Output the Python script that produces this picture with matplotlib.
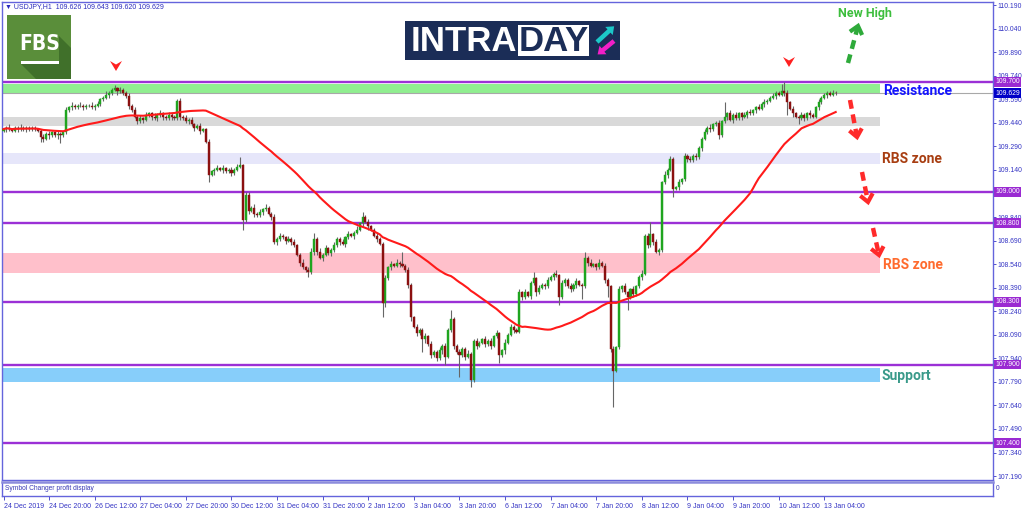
import numpy as np
import pandas as pd
import matplotlib
matplotlib.use("Agg")
import matplotlib.pyplot as plt
from matplotlib.patches import Rectangle, Polygon

plt.rcParams["font.family"] = ["Liberation Sans", "DejaVu Sans"]

# ---------------- data (USDJPY H1) ----------------
symbol_header = "\u25bc USDJPY,H1  109.626 109.643 109.620 109.629"
first_open = 109.39
closes = [
    109.40, 109.41, 109.40, 109.39, 109.41, 109.40, 109.41, 109.40, 109.41, 109.40,
    109.41, 109.40, 109.39, 109.35, 109.34, 109.37, 109.36, 109.38, 109.36, 109.37,
    109.36, 109.38, 109.52, 109.54, 109.55, 109.54, 109.55, 109.55, 109.54, 109.55,
    109.55, 109.54, 109.55, 109.56, 109.59, 109.60, 109.62, 109.63, 109.65, 109.66,
    109.64, 109.65, 109.63, 109.61, 109.55, 109.52, 109.48, 109.45, 109.47, 109.46,
    109.49, 109.50, 109.48, 109.47, 109.49, 109.50, 109.48, 109.47, 109.49, 109.48,
    109.47, 109.58, 109.48, 109.47, 109.45, 109.46, 109.43, 109.41, 109.42, 109.39,
    109.40, 109.32, 109.11, 109.13, 109.14, 109.15, 109.14, 109.15, 109.13, 109.14,
    109.12, 109.14, 109.16, 109.17, 108.82, 108.98, 108.88, 108.90, 108.86, 108.85,
    108.87, 108.89, 108.90, 108.86, 108.84, 108.68, 108.70, 108.72, 108.71, 108.69,
    108.70, 108.68, 108.66, 108.60, 108.55, 108.52, 108.50, 108.49, 108.62, 108.70,
    108.62, 108.58, 108.60, 108.64, 108.61, 108.63, 108.66, 108.70, 108.68, 108.67,
    108.71, 108.73, 108.72, 108.74, 108.76, 108.80, 108.84, 108.81, 108.78, 108.76,
    108.72, 108.70, 108.67, 108.29, 108.45, 108.52, 108.54, 108.53, 108.55, 108.54,
    108.53, 108.50, 108.41, 108.20, 108.14, 108.10, 108.12, 108.06, 108.08, 108.03,
    107.96, 107.98, 107.94, 107.99, 108.02, 107.95, 108.12, 108.19, 108.02, 107.98,
    107.96, 108.00, 107.95, 107.97, 107.80, 108.05, 108.02, 108.04, 108.06, 108.03,
    108.05, 108.02, 108.08, 108.10, 107.96, 107.99, 108.04, 108.09, 108.14, 108.12,
    108.11, 108.36, 108.33, 108.36, 108.34, 108.42, 108.45, 108.36, 108.39, 108.41,
    108.40, 108.44, 108.46, 108.48, 108.47, 108.33, 108.42, 108.44, 108.40, 108.38,
    108.41, 108.43, 108.41, 108.40, 108.58, 108.55, 108.53, 108.54, 108.52, 108.55,
    108.53, 108.44, 108.40, 108.00, 107.86, 108.01, 108.38, 108.40, 108.36, 108.33,
    108.38, 108.35, 108.40, 108.46, 108.48, 108.72, 108.66, 108.73, 108.68, 108.62,
    108.63, 109.06, 109.11, 109.14, 109.21, 109.02, 109.03, 109.06, 109.08, 109.23,
    109.21, 109.20, 109.23, 109.22, 109.28, 109.34, 109.38, 109.41, 109.40, 109.43,
    109.44, 109.36, 109.45, 109.48, 109.50, 109.46, 109.49, 109.47, 109.50, 109.48,
    109.49, 109.51, 109.50, 109.52, 109.54, 109.53, 109.56, 109.57, 109.58, 109.60,
    109.61, 109.63, 109.62, 109.64, 109.63, 109.57, 109.53, 109.50, 109.48, 109.47,
    109.49, 109.47, 109.50, 109.49, 109.48, 109.54, 109.57, 109.60, 109.62, 109.63,
    109.62, 109.63, 109.629,
]
# upper / lower shadow lengths in pips (0.01)
wick_hi = [
    1, 1, 2, 1, 1, 1, 2, 1, 1, 1,
    1, 1, 1, 1, 2, 1, 2, 1, 1, 2,
    1, 1, 2, 1, 2, 1, 1, 2, 1, 1,
    1, 2, 1, 2, 1, 1, 2, 1, 1, 2,
    1, 2, 1, 1, 2, 1, 2, 1, 2, 1,
    2, 1, 1, 2, 1, 2, 1, 1, 2, 1,
    1, 1, 2, 1, 2, 1, 2, 1, 1, 2,
    1, 1, 2, 1, 1, 2, 1, 2, 1, 1,
    2, 1, 2, 5, 1, 2, 2, 1, 2, 1,
    2, 1, 2, 1, 1, 2, 1, 2, 1, 1,
    2, 1, 2, 1, 1, 2, 1, 2, 2, 4,
    1, 2, 1, 2, 1, 1, 2, 1, 1, 2,
    1, 2, 1, 1, 2, 1, 3, 1, 2, 1,
    1, 2, 1, 1, 2, 1, 2, 1, 2, 1,
    8, 1, 2, 1, 1, 2, 1, 1, 2, 1,
    2, 1, 1, 2, 1, 2, 1, 6, 1, 1,
    2, 1, 1, 2, 1, 1, 2, 1, 1, 2,
    1, 2, 1, 2, 1, 1, 2, 1, 2, 1,
    1, 2, 1, 2, 1, 1, 4, 1, 2, 1,
    1, 2, 1, 1, 2, 1, 2, 1, 1, 2,
    1, 2, 1, 1, 4, 1, 2, 1, 1, 2,
    1, 2, 1, 1, 2, 1, 2, 1, 2, 1,
    1, 2, 1, 1, 2, 1, 2, 8, 1, 2,
    1, 1, 2, 1, 2, 1, 1, 2, 1, 2,
    1, 2, 1, 2, 1, 1, 2, 1, 2, 1,
    1, 2, 1, 9, 1, 2, 1, 2, 1, 1,
    2, 1, 2, 1, 1, 2, 1, 2, 1, 1,
    2, 1, 1, 5, 6, 2, 1, 2, 1, 1,
    2, 1, 1, 2, 1, 1, 2, 1, 1, 1,
    1, 2, 1,
]
wick_lo = [
    1, 2, 1, 1, 1, 2, 1, 1, 2, 1,
    1, 1, 1, 3, 2, 1, 2, 1, 1, 2,
    5, 1, 1, 1, 2, 1, 1, 1, 2, 1,
    1, 1, 2, 1, 1, 1, 1, 2, 1, 1,
    2, 1, 1, 1, 2, 1, 1, 2, 1, 2,
    1, 1, 2, 1, 2, 1, 2, 1, 1, 2,
    1, 1, 2, 1, 1, 2, 1, 2, 1, 2,
    1, 1, 5, 1, 2, 1, 1, 2, 1, 1,
    2, 1, 1, 1, 6, 1, 2, 1, 2, 1,
    1, 2, 1, 1, 2, 1, 2, 1, 1, 2,
    1, 2, 1, 1, 2, 1, 1, 3, 1, 2,
    2, 1, 2, 1, 1, 2, 1, 1, 2, 1,
    2, 1, 1, 2, 1, 1, 2, 1, 2, 1,
    1, 2, 1, 9, 2, 1, 2, 1, 1, 2,
    1, 1, 2, 2, 1, 2, 1, 8, 2, 1,
    2, 1, 2, 1, 2, 5, 1, 1, 2, 1,
    14, 1, 2, 1, 4, 1, 2, 1, 1, 2,
    1, 2, 1, 1, 5, 1, 2, 1, 1, 2,
    1, 1, 2, 1, 1, 2, 1, 2, 1, 1,
    2, 1, 1, 2, 1, 5, 1, 2, 1, 2,
    1, 2, 1, 8, 1, 2, 1, 1, 2, 1,
    1, 2, 7, 2, 23, 1, 1, 2, 1, 8,
    1, 2, 1, 1, 2, 1, 2, 1, 2, 1,
    2, 1, 1, 2, 1, 5, 1, 2, 1, 1,
    2, 1, 1, 2, 1, 2, 1, 1, 2, 1,
    1, 2, 1, 1, 2, 1, 2, 1, 1, 2,
    1, 2, 1, 1, 2, 1, 1, 2, 1, 1,
    1, 2, 1, 1, 2, 8, 1, 2, 1, 4,
    1, 2, 1, 2, 1, 1, 2, 1, 1, 2,
    1, 1, 1,
]
ma_period = 50

level_lines = [109.70, 109.00, 108.80, 108.30, 107.90, 107.40]
last_price = 109.629
resistance_zone = (109.625, 109.69)
gray_zone = (109.42, 109.48)
rbs_upper_zone = (109.18, 109.25)
rbs_lower_zone = (108.485, 108.61)
support_zone = (107.79, 107.88)

price_ticks = [110.19, 110.04, 109.89, 109.74, 109.59, 109.44, 109.29, 109.14,
               108.99, 108.84, 108.69, 108.54, 108.39, 108.24, 108.09, 107.94,
               107.79, 107.64, 107.49, 107.34, 107.19]
hidden_ticks = [108.99]  # covered by the 109.000 price box
time_ticks = [0, 16, 32, 48, 64, 80, 96, 112, 128, 144, 160, 176, 192, 208,
              224, 240, 256, 272, 288]
time_labels = ["24 Dec 2019", "24 Dec 20:00", "26 Dec 12:00", "27 Dec 04:00",
               "27 Dec 20:00", "30 Dec 12:00", "31 Dec 04:00", "31 Dec 20:00",
               "2 Jan 12:00", "3 Jan 04:00", "3 Jan 20:00", "6 Jan 12:00",
               "7 Jan 04:00", "7 Jan 20:00", "8 Jan 12:00", "9 Jan 04:00",
               "9 Jan 20:00", "10 Jan 12:00", "13 Jan 04:00"]

# ---------------- derived ----------------
c = np.array(closes)
o = np.r_[first_open, c[:-1]]
h = np.maximum(o, c) + np.array(wick_hi) * 0.01
l = np.minimum(o, c) - np.array(wick_lo) * 0.01
x = np.arange(len(c))
ma = pd.Series(c).rolling(ma_period, min_periods=1).mean()

# ---------------- figure ----------------
W, H = 1024, 511
fig = plt.figure(figsize=(W / 100, H / 100), dpi=100)
fig.patch.set_facecolor("white")


def px_axes(x0, y0, x1, y1, **kw):
    return fig.add_axes([x0 / W, 1 - y1 / H, (x1 - x0) / W, (y1 - y0) / H], **kw)


frame = "#6464DC"
axis_txt = "#3434C4"

ax = px_axes(2, 2, 993, 480)
bar_px = 2.85
xmin = -1.5 / bar_px
ax.set_xlim(xmin, xmin + 991 / bar_px)
ax.set_ylim(109.7 - (480 - 82) / 157, 109.7 + 80 / 157)

zone_xmax = (880 - 2) / 991
ax.axhspan(*resistance_zone, xmax=zone_xmax, color="#90EE90", lw=0, zorder=0.5)
ax.axhspan(*gray_zone, xmax=zone_xmax, color="#D9D9D9", lw=0, zorder=0.5)
ax.axhspan(*rbs_upper_zone, xmax=zone_xmax, color="#E6E6FA", lw=0, zorder=0.5)
ax.axhspan(*rbs_lower_zone, xmax=zone_xmax, color="#FFC0CB", lw=0, zorder=0.5)
ax.axhspan(*support_zone, xmax=zone_xmax, color="#87CEFA", lw=0, zorder=0.5)

for lv in level_lines:
    ax.axhline(lv, color="#9B30D6", lw=1.7, zorder=1)
ax.axhline(last_price, color="#A8A8A8", lw=0.8, zorder=1)

# candles
up = c >= o
ax.vlines(x, l, h, color="#666666", lw=0.8, zorder=2)
ax.bar(x[up], (c - o)[up], bottom=o[up], width=0.72, color="#1FA51F",
       edgecolor="#1FA51F", lw=0.3, zorder=3)
ax.bar(x[~up], (c - o)[~up], bottom=o[~up], width=0.72, color="#8B1010",
       edgecolor="#8B1010", lw=0.3, zorder=3)

ax.plot(x, ma, color="#FF1A1A", lw=1.5, zorder=4)

# right price scale
ax.yaxis.tick_right()
ax.set_yticks(price_ticks)
ax.set_yticklabels(["" if v in hidden_ticks else f"{v:.3f}" for v in price_ticks])
ax.tick_params(axis="y", direction="out", length=2.5, width=0.6, pad=1,
               labelsize=4.9, colors=axis_txt)
ax.set_xticks([])
for s in ax.spines.values():
    s.set_color(frame)
    s.set_linewidth(1)

box_kw = dict(transform=ax.get_yaxis_transform(), ha="left", va="center",
              fontsize=4.9, color="white", clip_on=False, zorder=6)
for lv in level_lines:
    ax.text(1.002, lv, f"{lv:.3f}",
            bbox=dict(boxstyle="square,pad=0.2", fc="#9A2AD2", ec="none"), **box_kw)
ax.text(1.002, last_price, f"{last_price:.3f}",
        bbox=dict(boxstyle="square,pad=0.2", fc="#0000C8", ec="none"), **box_kw)

# sub window + time axis
sub = px_axes(2, 482, 993, 496)
sub.set_xlim(ax.get_xlim())
sub.set_yticks([])
sub.set_xticks(time_ticks)
sub.set_xticklabels(time_labels, ha="left")
sub.tick_params(axis="x", direction="out", length=3, width=0.6, pad=2,
                labelsize=5, colors=axis_txt)
for s in sub.spines.values():
    s.set_color(frame)
    s.set_linewidth(1)
sub.spines["top"].set_linewidth(1.8)
sub.spines["top"].set_color("#8C8CDC")
sub.text(0.003, 0.5, "Symbol Changer profit display", transform=sub.transAxes,
         fontsize=4.8, color="#3A3AB5", va="center")
sub.text(1.003, 0.5, "0", transform=sub.transAxes, fontsize=4.8,
         color="#3A3AB5", va="center", clip_on=False)

# ---------------- overlay in pixel coordinates ----------------
ov = px_axes(0, 0, W, H, zorder=10)
ov.set_xlim(0, W)
ov.set_ylim(H, 0)
ov.set_axis_off()
ov.patch.set_alpha(0)

ov.text(5, 7, symbol_header, fontsize=5, color="#2A2ABD", va="center")

# FBS logo
ov.add_patch(Rectangle((7, 15), 64, 64, color="#5A8E3A", lw=0))
ov.add_patch(Polygon([(21, 64), (59, 64), (59, 36), (71, 48), (71, 79), (36, 79)],
                     closed=True, color="#40702A", lw=0))
ov.text(40, 44, "FBS", color="white", fontsize=15, fontweight="bold",
        ha="center", va="center", family="DejaVu Sans", fontstretch="condensed")
ov.add_patch(Rectangle((21, 61), 38, 3, color="white", lw=0))

# INTRADAY logo
ov.add_patch(Rectangle((405, 21), 215, 39, color="#1B2D57", lw=0))
ov.add_patch(Rectangle((518, 25), 71, 31, color="white", lw=0))
ov.text(411, 41.5, "INTRA", color="white", fontsize=25, fontweight="bold",
        ha="left", va="center")
ov.text(553.5, 41.5, "DAY", color="#1B2D57", fontsize=25, fontweight="bold",
        ha="center", va="center")
ov.arrow(597, 42, 12, -11, width=4.5, head_width=11, head_length=7,
         color="#1CC8C8", lw=0, length_includes_head=False)
ov.arrow(614, 41, -11, 9, width=4.5, head_width=11, head_length=7,
         color="#F21FC8", lw=0, length_includes_head=False)

# fractal markers
for mx, my in [(116, 66), (789, 62)]:
    ov.add_patch(Polygon([(mx - 6, my - 5), (mx, my - 1.5), (mx + 6, my - 5), (mx, my + 5)],
                         closed=True, color="#FF2020", lw=0))


def dashed_arrow(p0, p1, color):
    p0, p1 = np.array(p0, float), np.array(p1, float)
    u = (p1 - p0) / np.hypot(*(p1 - p0))
    n = np.array([-u[1], u[0]])
    ov.plot([p0[0], p1[0] - 2 * u[0]], [p0[1], p1[1] - 2 * u[1]], color=color,
            lw=3.2, ls=(0, (2.0, 1.3)), solid_capstyle="butt")
    head = [p1 - 6 * u + 5 * n, p1, p1 - 6 * u - 5 * n]
    ov.plot([q[0] for q in head], [q[1] for q in head], color=color, lw=3,
            solid_joinstyle="miter")


dashed_arrow((848, 63), (858, 26), "#2EAA3A")
dashed_arrow((850, 100), (857, 137), "#FF2A2A")
dashed_arrow((862, 172), (868, 202), "#FF2A2A")
dashed_arrow((873, 228), (879, 255), "#FF2A2A")

lab = dict(fontsize=10, fontweight="bold", family=["Roboto", "DejaVu Sans"],
           va="center", ha="left")
ov.text(838, 13, "New High", color="#3DBE3D", **{**lab, "fontsize": 9})
ov.text(883, 91, "Resistance", color="#1414FF", **lab)
ov.text(882, 159, "RBS zone", color="#A83E12", **lab)
ov.text(883, 265, "RBS zone", color="#FF6B2E", **lab)
ov.text(882, 376, "Support", color="#3A9A8A", **lab)

fig.savefig("out.png", dpi=100)
